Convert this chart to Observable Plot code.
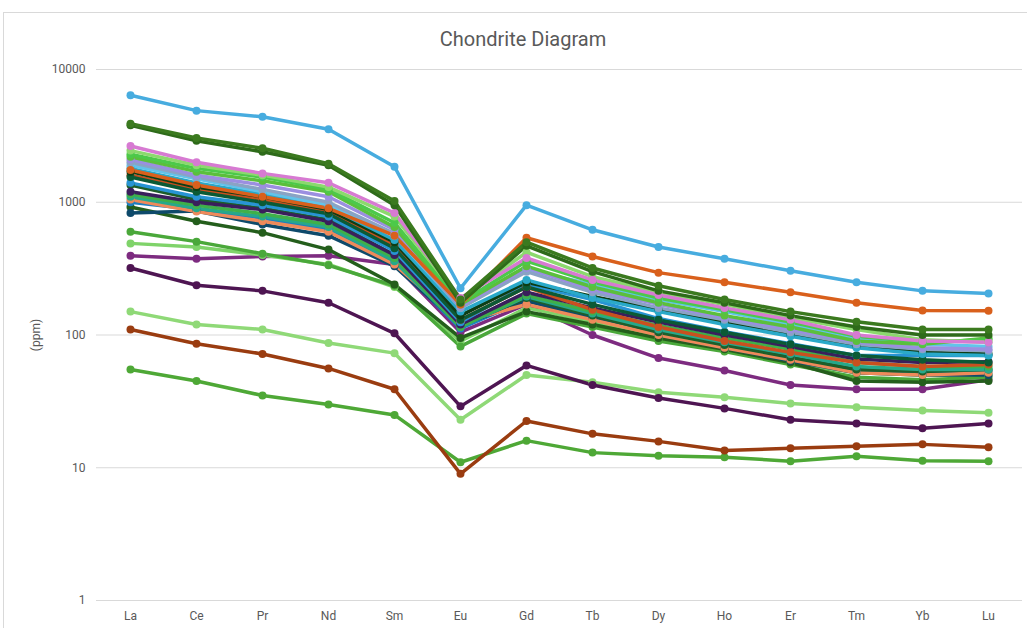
<!DOCTYPE html>
<html><head><meta charset="utf-8">
<script src="https://cdn.jsdelivr.net/npm/d3@7"></script>
<script src="https://cdn.jsdelivr.net/npm/@observablehq/plot@0.6"></script>
<style>
body{margin:0;background:#fff;width:1027px;height:628px;overflow:hidden;position:relative;font-family:"Liberation Sans Narrow","Roboto",sans-serif;}
#frame{position:absolute;left:3px;top:12px;width:1100px;height:700px;border:1px solid #d9d9d9;}
#title{position:absolute;left:0;width:1046px;top:27px;text-align:center;font-size:20px;color:#595959;}
#chart{position:absolute;left:0;top:0;}
</style></head><body>
<div id="frame"></div>
<div id="title">Chondrite Diagram</div>
<div id="chart"></div>
<script>
const elements = ["La","Ce","Pr","Nd","Sm","Eu","Gd","Tb","Dy","Ho","Er","Tm","Yb","Lu"];
const yTicks = [1, 10, 100, 1000, 10000];

const seriesNames = ["S1","S2","S3","S4","S5","S6","S7","S8","S9","S10","S11","S12","S13","S14","S15","S16","S17","S18","S19","S20","S21","S22","S23","S24","S25","S26","S27","S28","S29","S30","S31"];
const seriesColors = ["#47acdf","#3b7a1f","#2e6b1a","#d9601c","#d77ad2","#8cd96e","#4cc94a","#5bbf3c","#9b8fe0","#8aa3c4","#62c3ea","#2aa9c9","#0d3d14","#0b5a35","#c9501f","#2894d4","#3a1f5c","#3fb04a","#27a88a","#1d5e2a","#ee8a5a","#0e4a6b","#1e7fc0","#245e1c","#4aa83a","#7fd36a","#7d2b80","#4e1552","#8fd977","#9a3c10","#4ea836"];

const s1  = [6400, 4900, 4400, 3550, 1850, 225, 950, 620, 460, 375, 305, 250, 215, 205];
const s2  = [3900, 3050, 2550, 1950, 1020, 185, 500, 320, 235, 185, 150, 126, 110, 110];
const s3  = [3800, 2900, 2400, 1900, 950, 175, 470, 300, 215, 175, 140, 115, 100, 100];
const s4  = [1750, 1350, 1100, 900, 560, 170, 540, 390, 295, 250, 210, 175, 153, 152];
const s5  = [2650, 2000, 1650, 1400, 830, 190, 380, 260, 200, 160, 130, 100, 90, 88];
const s6  = [2450, 1900, 1600, 1300, 780, 185, 420, 275, 210, 170, 135, 110, 92, 88];
const s7  = [2300, 1800, 1550, 1250, 700, 175, 360, 250, 190, 155, 125, 98, 88, 92];
const s8  = [2200, 1700, 1450, 1200, 650, 170, 330, 230, 175, 140, 115, 90, 85, 95];
const s9  = [2100, 1600, 1350, 1100, 620, 165, 320, 220, 170, 135, 110, 88, 80, 78];
const s10 = [2000, 1550, 1250, 1000, 580, 160, 300, 210, 160, 130, 105, 85, 78, 76];
const s11 = [1900, 1500, 1200, 950, 560, 160, 310, 240, 185, 150, 120, 95, 85, 82];
const s12 = [1800, 1400, 1150, 920, 520, 150, 260, 190, 150, 120, 98, 80, 72, 70];
const s13 = [1700, 1300, 1100, 880, 500, 140, 250, 195, 155, 125, 100, 82, 74, 72];
const s14 = [1550, 1200, 1000, 820, 450, 130, 230, 170, 130, 105, 85, 70, 65, 62];
const s15 = [1600, 1250, 1050, 850, 470, 130, 230, 155, 115, 90, 74, 62, 58, 60];
const s16 = [1400, 1100, 950, 780, 430, 125, 240, 185, 133, 106, 86, 70, 70, 70];
const s17 = [1200, 1000, 880, 720, 400, 120, 210, 160, 125, 100, 82, 66, 62, 63];
const s18 = [1150, 950, 820, 680, 380, 115, 200, 150, 118, 95, 78, 62, 58, 58];
const s19 = [1100, 900, 780, 650, 360, 115, 195, 145, 110, 88, 72, 58, 55, 55];
const s20 = [1350, 1050, 900, 740, 400, 118, 190, 140, 105, 84, 68, 55, 53, 55];
const s21 = [1050, 850, 720, 600, 340, 125, 170, 130, 100, 80, 65, 52, 50, 52];
const s22 = [830, 860, 680, 560, 330, 118, 180, 135, 100, 80, 64, 52, 50, 50];
const s23 = [1000, 880, 760, 620, 350, 112, 185, 140, 105, 85, 68, 55, 52, 53];
const s24 = [920, 720, 590, 440, 240, 95, 150, 120, 95, 78, 62, 45, 44, 45];
const s25 = [600, 505, 410, 335, 235, 82, 145, 115, 90, 75, 60, 48, 46, 48];
const s26 = [490, 460, 400, 340, 230, 90, 160, 125, 95, 77, 62, 52, 50, 50];
const s27 = [395, 375, 390, 395, 340, 105, 170, 100, 67, 54, 42, 39, 39, 46];
const s28 = [320, 237, 215, 175, 103, 29, 59, 42, 33.5, 28, 23, 21.5, 19.8, 21.5];
const s29 = [150, 120, 110, 87, 73, 23, 50, 44, 37, 34, 30.5, 28.5, 27, 26];
const s30 = [110, 86, 72, 56, 39, 9, 22.5, 18, 15.8, 13.5, 14, 14.5, 15, 14.3];
const s31 = [55, 45, 35, 30, 25, 11, 16, 13, 12.3, 12, 11.2, 12.2, 11.3, 11.2];

const seriesValues = [s1,s2,s3,s4,s5,s6,s7,s8,s9,s10,s11,s12,s13,s14,s15,s16,s17,s18,s19,s20,s21,s22,s23,s24,s25,s26,s27,s28,s29,s30,s31];

// draw in reverse so the first series sits on top
const rows = [];
for (let i = seriesValues.length - 1; i >= 0; i--) {
  seriesValues[i].forEach((v, j) => rows.push({s: seriesNames[i], c: seriesColors[i], el: elements[j], v}));
}

const font = '"Liberation Sans Narrow","Roboto",sans-serif';
const plot = Plot.plot({
  width: 1027, height: 628,
  marginTop: 69, marginBottom: 28, marginLeft: 96, marginRight: 5,
  style: {fontFamily: font, fontSize: "12px", color: "#595959", background: "transparent", overflow: "visible"},
  x: {type: "point", domain: elements, padding: 0.5},
  y: {type: "log", domain: [1, 10000]},
  color: {type: "identity"},
  marks: [
    Plot.gridY(yTicks, {stroke: "#d9d9d9", strokeOpacity: 1, strokeWidth: 1}),
    Plot.axisY(yTicks, {tickSize: 0, tickPadding: 11, tickFormat: d => String(d), label: "(ppm)", labelAnchor: "center", labelArrow: "none", labelOffset: 65, fill: "#595959"}),
    Plot.axisX({tickSize: 0, tickPadding: 11, label: null, fill: "#595959"}),
    Plot.line(rows, {x: "el", y: "v", z: "s", stroke: "c", strokeWidth: 3.5, strokeLinejoin: "round"}),
    Plot.dot(rows, {x: "el", y: "v", fill: "c", r: 4})
  ]
});
document.getElementById("chart").appendChild(plot);
</script>
</body></html>
